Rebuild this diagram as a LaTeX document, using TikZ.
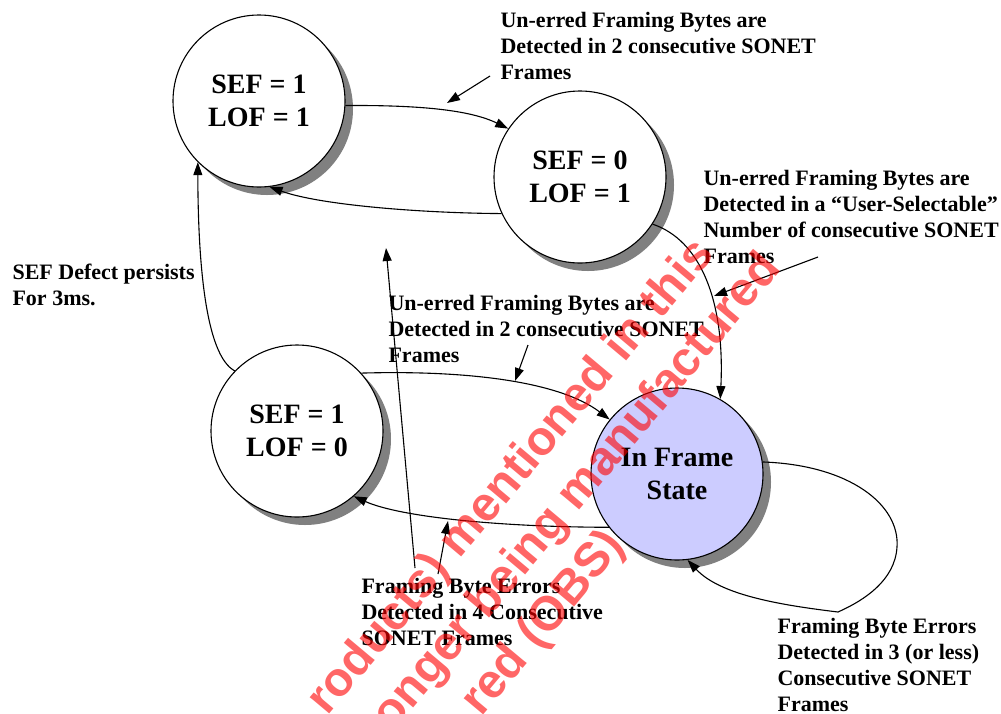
\documentclass[tikz,border=0pt]{standalone}
\usepackage{fontspec}
\setmainfont{Liberation Serif}
\newfontfamily\wmfont{Liberation Sans}
\usetikzlibrary{arrows.meta, shadows}

\begin{document}
\begin{tikzpicture}[x=1pt, y=-1pt, line width=1.1pt,
  state/.style={circle, draw, fill=white, minimum size=172pt, inner sep=0pt, align=center,
    font=\fontsize{28}{33}\selectfont\bfseries,
    drop shadow={shadow xshift=8pt, shadow yshift=-8pt, fill=black!50, opacity=1}},
  lab/.style={anchor=north west, inner sep=0pt, align=left, font=\fontsize{22}{26}\selectfont\bfseries},
  trans/.style={-{Triangle[length=13pt, width=9pt]}},
  wm/.style={rotate=50, inner sep=0pt, text=red, text opacity=0.6, font=\wmfont\fontsize{48}{48}\selectfont\bfseries}]
\path[use as bounding box, fill=white] (0,0) rectangle (1001,713);
% ---------- states ----------
\node[state] (sA) at (259,101) {SEF = 1\\LOF = 1};
\node[state] (sB) at (580,177) {SEF = 0\\LOF = 1};
\node[state] (sC) at (297,431) {SEF = 1\\LOF = 0};
\node[state, fill={rgb,255:red,204;green,204;blue,255}] (sD) at (677,474) {In Frame\\State};
% ---------- transitions ----------
\draw[trans] (sA.-3) .. controls (420,105) and (470,110) .. (sB.146);
\draw[trans] (sB.205) .. controls (420,213) and (320,205) .. (sA.-83);
\draw[trans] (sC.136) .. controls (205,355) and (198,260) .. (sA.225);
\draw[trans] (sC.42) .. controls (470,370) and (560,382) .. (sD.141);
\draw[trans] (sD.218) .. controls (500,527) and (400,517) .. (sC.-49);
\draw[trans] (sB.-33) .. controls (700,240) and (725,300) .. (sD.60);
% self loop
\draw[trans] (sD.8) .. controls (850,465) and (900,505) .. (897,547)
  .. controls (895,580) and (865,600) .. (838,612)
  .. controls (780,605) and (720,595) .. (sD.-83);
% ---------- labels ----------
\node[lab] (lAB) at (500,12) {Un-erred Framing Bytes are\\Detected in 2 consecutive SONET\\Frames};
\node[lab] (lBD) at (703,170) {Un-erred Framing Bytes are\\Detected in a “User-Selectable”\\Number of consecutive SONET\\Frames};
\node[lab] (lCA) at (12,263) {SEF Defect persists\\For 3ms.};
\node[lab] (lCD) at (388,295) {Un-erred Framing Bytes are\\Detected in 2 consecutive SONET\\Frames};
\node[lab] (lDC) at (361,578) {Framing Byte Errors\\Detected in 4 Consecutive\\SONET Frames};
\node[lab] (lDD) at (777,618) {Framing Byte Errors\\Detected in 3 (or less)\\Consecutive SONET\\Frames};
% pointers from the labels
\coordinate (tAB) at (490,76);  \coordinate (hAB) at (447,103);
\coordinate (tCD) at (528,345); \coordinate (hCD) at (515,381);
\coordinate (tBD) at (818,257); \coordinate (hBD) at (714,296);
\coordinate (tBA) at (415,568); \coordinate (hBA) at (386,248);
\coordinate (tDC) at (438,574); \coordinate (hDC) at (448,521);
\draw[trans] (tAB) -- (hAB);
\draw[trans] (tCD) -- (hCD);
\draw[trans] (tBD) -- (hBD);
\draw[trans] (tBA) -- (hBA);
\draw[trans] (tDC) -- (hDC);
% ---------- watermark ----------
\node[wm] (w1) at (512,478) {roducts) mentioned in this};
\node[wm] (w2) at (578,493) {onger being manufactured};
\node[wm] (w3) at (544,624) {red (OBS)};
\end{tikzpicture}
\end{document}
